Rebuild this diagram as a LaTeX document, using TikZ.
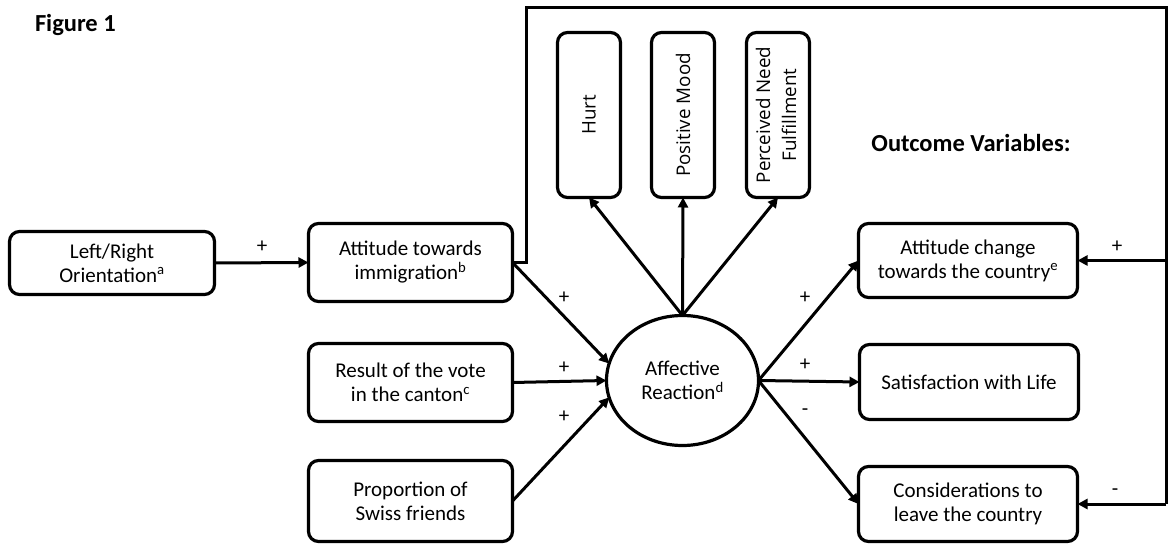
\documentclass[tikz,border=0pt]{standalone}
\usepackage{fontspec}
\setmainfont{Carlito}
\newfontfamily\rotfont{Open Sans}
\usetikzlibrary{arrows.meta,shapes.geometric}
\begin{document}
\begin{tikzpicture}[x=1pt,y=-1pt,
  every node/.style={inner sep=0pt,outer sep=0pt},
  box/.style={draw,line width=3.2pt,rounded corners=10pt,align=center,
    font=\fontsize{21}{24}\selectfont},
  tallbox/.style={draw,line width=3.2pt,rounded corners=10pt,align=center,
    minimum width=63pt,minimum height=165pt,font=\rotfont\fontsize{18.8}{26}\selectfont},
  arr/.style={line width=3pt,-{Triangle[length=10pt,width=10pt]}},
  fbline/.style={line width=3pt},
  sign/.style={font=\fontsize{21}{24}\selectfont},
  title/.style={font=\bfseries\fontsize{24.5}{28}\selectfont}]
\useasboundingbox (0,0) rectangle (1168,545);

\node[title,anchor=west] (fig) at (35,25) {Figure 1};
\node[title] (outc) at (971,143) {Outcome Variables:};

\node[box,minimum width=205pt,minimum height=63pt] (lr) at (112,263) {Left/Right\\Orientation\textsuperscript{a}};
\node[box,minimum width=204pt,minimum height=78pt] (att) at (410.5,262.5) {Attitude towards\\immigration\textsuperscript{b}};
\node[box,minimum width=204pt,minimum height=78pt] (res) at (410.5,382.5) {Result of the vote\\in the canton\textsuperscript{c}};
\node[box,minimum width=204pt,minimum height=81pt] (prop) at (410.5,501) {Proportion of\\Swiss friends};

\node[tallbox] (hurt) at (589,115) {\rotatebox{90}{Hurt}};
\node[tallbox] (mood) at (683,115) {\rotatebox{90}{Positive Mood}};
\node[tallbox] (perc) at (778,115) {\rotatebox{90}{\begin{tabular}{@{}c@{}}Perceived Need\\Fulfillment\end{tabular}}};

\node[box,ellipse,minimum width=152pt,minimum height=130pt] (aff) at (682.5,380.5) {Affective\\Reaction\textsuperscript{d}};

\node[box,minimum width=219pt,minimum height=74pt] (attch) at (968,260.5) {Attitude change\\towards the country\textsuperscript{e}};
\node[box,minimum width=219pt,minimum height=75pt] (sat) at (969,382) {Satisfaction with Life};
\node[box,minimum width=219pt,minimum height=75pt] (cons) at (968,504) {Considerations to\\leave the country};

\draw[arr] (lr.east) -- (att.west);
\draw[arr] (att.east) -- (aff.167);
\draw[arr] (res.east) -- (aff.west);
\draw[arr] (prop.east) -- (aff.193);
\draw[arr] (aff.north) -- (hurt.south);
\draw[arr] (aff.north) -- (mood.south);
\draw[arr] (aff.north) -- (perc.south);
\draw[arr] (aff.east) -- (attch.west);
\draw[arr] (aff.east) -- (sat.west);
\draw[arr] (aff.east) -- (cons.west);

\coordinate (fb1) at (526,8);
\coordinate (fb2) at (1166,8);
\draw[fbline] (att.east) -| (fb1) -- (fb2) -- (fb2 |- cons.east);
\draw[arr] (fb2 |- cons.east) -- (cons.east);
\draw[arr] (fb2 |- attch.east) -- (attch.east);

\node[sign] (s1) at (262,247) {+};
\node[sign] (s2) at (564,298) {+};
\node[sign] (s3) at (564,368) {+};
\node[sign] (s4) at (564,417) {+};
\node[sign] (s5) at (805,298) {+};
\node[sign] (s6) at (805,365) {+};
\node[sign] (s7) at (805,412) {-};
\node[sign] (s8) at (1117,247) {+};
\node[sign] (s9) at (1115,492) {-};
\end{tikzpicture}
\end{document}
